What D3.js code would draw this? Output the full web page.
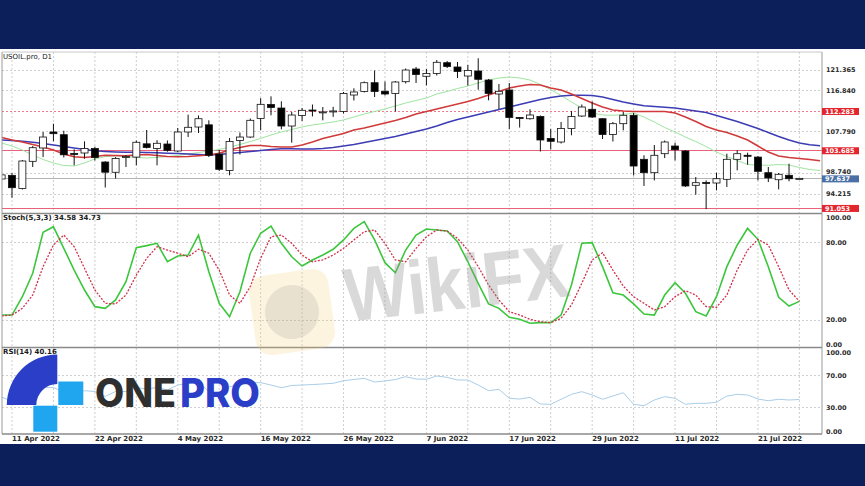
<!DOCTYPE html>
<html><head><meta charset="utf-8">
<script src="https://cdn.jsdelivr.net/npm/d3@7"></script>
<style>body{margin:0;background:#0c1f5b;}svg{display:block}</style>
</head><body>
<svg id="c" width="865" height="486"></svg>
<script>
// ---------------- DATA ----------------
const dates = ['2022-04-08',
'2022-04-11','2022-04-12','2022-04-13','2022-04-14',
'2022-04-18','2022-04-19','2022-04-20','2022-04-21','2022-04-22',
'2022-04-25','2022-04-26','2022-04-27','2022-04-28','2022-04-29',
'2022-05-02','2022-05-03','2022-05-04','2022-05-05','2022-05-06',
'2022-05-09','2022-05-10','2022-05-11','2022-05-12','2022-05-13',
'2022-05-16','2022-05-17','2022-05-18','2022-05-19','2022-05-20',
'2022-05-23','2022-05-24','2022-05-25','2022-05-26','2022-05-27',
'2022-05-30','2022-05-31','2022-06-01','2022-06-02','2022-06-03',
'2022-06-06','2022-06-07','2022-06-08','2022-06-09','2022-06-10',
'2022-06-13','2022-06-14','2022-06-15','2022-06-16','2022-06-17',
'2022-06-20','2022-06-21','2022-06-22','2022-06-23','2022-06-24',
'2022-06-27','2022-06-28','2022-06-29','2022-06-30','2022-07-01',
'2022-07-04','2022-07-05','2022-07-06','2022-07-07','2022-07-08',
'2022-07-11','2022-07-12','2022-07-13','2022-07-14','2022-07-15',
'2022-07-18','2022-07-19','2022-07-20','2022-07-21','2022-07-22',
'2022-07-25','2022-07-26','2022-07-27','2022-07-28','2022-07-29'];

// candles for dates[0..77]
const open  = [97.5,98.3,95.4,101.37,104.29,107.79,107.2,103.1,103.19,104.18,101.22,98.97,102.2,102.3,105.2,104.18,105.16,103.63,107.79,108.88,109.36,102.97,99.36,105.93,106.69,110.75,113.81,113.04,109.1,111.4,112.6,112.1,112.2,112.28,115.89,116.66,118.58,116.7,116.22,118.8,121.58,119.99,120.6,122.96,122.02,120.05,121.15,119.17,116.11,116.99,110.97,110.7,111.18,106.37,105.6,108.56,111.29,112.76,110.7,107.24,109.61,111.45,101.81,98.88,103.04,104.72,103.63,96.12,96.73,96.62,97.43,101.81,102.69,102.3,98.88,97.34,98.31,97.6];
const high  = [98.6,98.8,101.66,104.72,107.79,109.6,108.07,104.0,105.75,104.57,101.4,102.3,102.75,105.93,108.23,106.0,105.93,108.67,111.58,111.4,110.35,103.85,106.47,107.68,110.75,115.2,115.6,114.51,112.17,113.04,113.81,113.26,113.3,116.55,117.36,118.85,121.26,118.85,118.96,121.7,122.02,121.58,123.55,123.33,123.12,122.46,123.93,119.4,118.3,118.52,111.07,112.76,111.4,108.45,109.98,112.39,113.81,114.47,110.85,109.98,112.17,111.95,102.69,104.94,105.93,105.45,103.85,97.94,97.2,98.88,103.04,103.78,103.26,102.53,100.13,98.81,100.85,97.7];
const low   = [97.2,93.4,95.2,100.13,102.3,105.75,102.2,100.5,101.94,101.55,95.63,97.6,100.13,100.5,104.18,100.5,103.48,103.4,106.7,107.57,102.3,99.25,98.31,102.86,106.47,108.16,111.45,108.38,105.45,110.2,111.2,110.35,111.1,111.84,114.69,116.44,115.45,115.78,112.28,118.41,118.52,118.0,120.16,121.8,119.6,117.97,117.05,114.73,112.83,108.45,108.77,110.5,103.52,104.0,105.27,107.07,111.07,110.85,106.26,105.71,108.16,98.27,95.97,97.2,102.09,101.55,95.75,94.06,90.9,95.02,95.75,99.4,100.63,97.2,96.84,95.24,96.99,97.55];
const close = [98.4,95.6,101.44,104.35,106.69,107.42,102.8,102.9,104.18,102.2,98.99,102.0,102.43,105.54,104.4,105.32,103.78,107.79,108.82,110.7,102.69,99.62,105.7,106.69,110.35,113.85,113.15,109.1,111.51,112.54,112.5,112.2,112.4,116.22,116.55,118.58,116.66,116.11,118.74,121.36,120.38,120.6,123.05,122.13,121.04,121.26,119.33,116.22,116.7,110.97,110.9,111.51,106.04,105.75,108.56,111.18,113.26,111.07,107.24,109.61,111.45,100.34,98.88,102.69,105.6,103.91,95.97,96.69,96.67,97.56,101.81,103.04,102.64,99.18,97.73,98.53,97.56,97.637];

// moving averages for dates[0..79]
const maFast = [105.38,104.72,103.85,102.75,101.77,101.00,100.46,100.35,101.00,101.88,102.42,102.53,102.42,102.20,102.10,102.20,102.42,102.64,102.97,103.30,103.63,103.96,104.50,105.05,105.71,106.37,107.13,107.79,108.34,108.89,109.32,109.65,109.98,110.42,111.07,111.73,112.28,112.83,113.48,114.14,114.69,115.23,116.11,116.66,117.31,117.86,118.52,119.17,119.61,119.83,119.61,119.17,118.19,117.09,115.78,114.36,113.04,111.95,111.51,111.45,111.62,111.95,111.07,109.98,108.77,107.79,106.69,105.71,104.61,103.41,102.42,101.55,100.67,100.56,100.50,100.67,100.56,100.02,99.58,99.36];
const maMid  = [106.59,106.04,105.60,105.05,104.50,103.85,102.97,102.38,102.20,102.42,102.69,102.64,102.58,102.75,102.86,102.64,102.42,102.38,102.42,102.58,102.75,103.13,103.85,104.39,104.83,104.83,104.61,104.50,104.50,104.94,105.60,106.37,106.91,107.46,108.23,108.67,109.21,109.76,110.31,110.97,111.73,112.28,112.83,113.37,113.92,114.47,115.12,115.89,116.66,117.42,117.86,118.19,118.08,117.42,116.99,116.11,115.12,114.14,113.26,112.61,112.39,112.28,112.28,112.28,112.28,111.95,111.07,110.09,108.99,108.23,107.68,106.91,106.04,104.72,103.41,102.53,102.20,101.99,101.77,101.48];
const maSlow = [106.04,105.93,105.75,105.53,105.27,104.94,104.61,104.29,103.96,103.67,103.52,103.41,103.34,103.34,103.30,103.24,103.15,103.06,102.97,102.86,102.75,102.86,103.08,103.30,103.52,103.74,103.96,104.11,104.11,104.07,104.07,104.18,104.39,104.72,105.05,105.49,105.93,106.37,106.80,107.35,107.90,108.45,109.10,109.87,110.53,111.07,111.62,112.17,112.72,113.26,113.81,114.36,114.91,115.34,115.67,115.82,115.85,115.78,115.45,114.91,114.36,113.92,113.53,113.37,113.22,113.04,112.72,112.39,112.06,111.40,110.75,110.09,109.32,108.56,107.68,106.80,106.04,105.38,104.99,104.77];

// Stochastic (5,3,3) and RSI(14) for dates[0..77]
const stochMain = [24.0,24.0,38.2,56.4,88.1,92.5,75.7,58.9,43.4,30.5,29.2,35.7,49.8,76.2,77.8,79.6,65.3,69.8,70.5,86.0,57.6,33.1,22.7,42.1,71.9,87.4,93.0,79.6,69.2,62.0,66.7,70.5,75.0,82.2,91.2,96.4,82.2,64.6,56.8,74.4,86.0,90.7,89.9,89.1,80.9,65.3,48.6,32.6,29.2,22.2,20.7,17.6,18.1,18.1,24.0,47.3,79.6,80.1,61.5,41.3,39.5,32.6,24.8,24.0,39.5,49.1,40.9,26.6,23.3,38.2,61.5,78.3,91.2,82.7,61.5,37.8,31.0,34.58];
const stochSignal = [23.3,24.0,29.2,39.5,61.5,78.3,86.0,77.0,60.2,43.4,33.1,32.6,39.5,55.0,68.0,77.0,74.4,71.9,69.2,75.0,71.9,58.9,39.5,33.1,46.0,68.0,84.7,86.0,79.6,70.5,65.3,66.7,70.5,75.7,82.2,88.6,89.9,79.6,66.7,65.3,75.7,84.7,89.9,89.1,83.5,74.4,61.5,47.3,35.7,26.6,24.0,20.7,18.8,18.1,21.5,31.8,48.6,66.7,72.3,58.9,46.5,38.2,33.1,27.9,30.5,38.2,42.9,39.5,30.5,30.0,39.5,58.9,74.4,82.7,78.3,61.5,43.4,34.73];
const rsi = [43,38,48,52,55,55,49,49,51,50,44,50,50,55,53,55,52,58,60,62,50,46,56,58,61,60.9,58.0,54.7,57.4,58.0,58.6,59.3,60.1,63.3,64.8,66.3,61.7,63.0,64.8,68.3,65.4,65.1,69.1,67.5,64.2,64.2,58.0,51.0,52.7,41.6,40.7,42.8,34.6,34.2,40.4,46.5,49.8,45.7,40.4,44.4,48.5,34.2,32.5,39.5,43.6,41.6,34.2,35.4,35.4,36.7,44.4,46.5,45.7,40.7,38.6,40.4,39.5,40.16];

const priceTicks = [121.365,116.840,107.790,98.740,94.215];
const levels = [112.283,103.685,91.053];
const lastPrice = 97.637;
const stochTicks = [100,80,20,0];
const stochLevels = [80,20];
const rsiTicks = [100,70,30,0];
const rsiLevels = [70,30];
const xTickDates = ['2022-04-11','2022-04-22','2022-05-04','2022-05-16','2022-05-26','2022-06-07','2022-06-17','2022-06-29','2022-07-11','2022-07-21'];
const xTickLabels = ['11 Apr 2022','22 Apr 2022','4 May 2022','16 May 2022','26 May 2022','7 Jun 2022','17 Jun 2022','29 Jun 2022','11 Jul 2022','21 Jul 2022'];

// ---------------- LAYOUT ----------------
const svg = d3.select('#c');
const L = 2, R = 822;
const main = {t:52, b:213.5}, st = {t:213.5, b:347.5}, rs = {t:347.5, b:434};
const FONT = '"DejaVu Sans", Verdana, sans-serif';

const x = d3.scalePoint().domain(dates).range([1.64, 820.1]);
const yP = d3.scaleLinear().domain([94.215,121.365]).range([194,70]);
const yS = d3.scaleLinear().domain([0,100]).range([346,217]);
const yR = d3.scaleLinear().domain([0,100]).range([432,351]);
const crisp = v => Math.round(v - 0.5) + 0.5;

svg.append('rect').attr('width',865).attr('height',486).attr('fill','#0c1f5b');
svg.append('rect').attr('x',0).attr('y',49).attr('width',865).attr('height',395).attr('fill','#ffffff');

const defs = svg.append('defs');
[['cm',main],['cs',st],['cr',rs]].forEach(([id,p])=>{
  defs.append('clipPath').attr('id',id).append('rect')
    .attr('x',L).attr('y',p.t).attr('width',R-L).attr('height',p.b-p.t);
});

// vertical grid
const grid = svg.append('g');
dates.forEach((d,i)=>{
  if (i % 4 === 1) {
    grid.append('line').attr('x1',x(d)).attr('x2',x(d)).attr('y1',main.t).attr('y2',rs.b)
      .attr('stroke','#cfcfcf').attr('stroke-dasharray','2,2').attr('stroke-width',1);
  }
});
// horizontal grid
priceTicks.forEach(v=>grid.append('line').attr('x1',L).attr('x2',R).attr('y1',crisp(yP(v))).attr('y2',crisp(yP(v)))
  .attr('stroke','#cfcfcf').attr('stroke-dasharray','2,2'));
stochLevels.forEach(v=>grid.append('line').attr('x1',L).attr('x2',R).attr('y1',crisp(yS(v))).attr('y2',crisp(yS(v)))
  .attr('stroke','#cfcfcf').attr('stroke-dasharray','2,2'));
rsiLevels.forEach(v=>grid.append('line').attr('x1',L).attr('x2',R).attr('y1',crisp(yR(v))).attr('y2',crisp(yR(v)))
  .attr('stroke','#cfcfcf').attr('stroke-dasharray','2,2'));

// ---------- main panel ----------
const gm = svg.append('g').attr('clip-path','url(#cm)');
gm.append('line').attr('x1',L).attr('x2',R).attr('y1',crisp(yP(lastPrice))).attr('y2',crisp(yP(lastPrice))).attr('stroke','#b4b4b4');
levels.forEach((v,i)=>{
  gm.append('line').attr('x1',L).attr('x2',R).attr('y1',crisp(yP(v))).attr('y2',crisp(yP(v)))
    .attr('stroke', i===0 ? '#f07a8c' : '#e8627a').attr('stroke-width',1)
    .attr('stroke-dasharray', i===0 ? '2,2' : null);
});
const maLine = arr => d3.line().x((v,i)=>x(dates[i])).y(v=>yP(v))(arr);
gm.append('path').attr('d',maLine(maFast)).attr('fill','none').attr('stroke','#9fe39f').attr('stroke-width',1);
gm.append('path').attr('d',maLine(maSlow)).attr('fill','none').attr('stroke','#3c3cb4').attr('stroke-width',1.5);
gm.append('path').attr('d',maLine(maMid)).attr('fill','none').attr('stroke','#d03a3a').attr('stroke-width',1.5);
open.forEach((o,i)=>{
  const cx = x(dates[i]), c = close[i];
  gm.append('line').attr('x1',cx).attr('x2',cx).attr('y1',yP(high[i])).attr('y2',yP(low[i]))
    .attr('stroke','#111').attr('stroke-width',1);
  const top = yP(Math.max(o,c)), bot = yP(Math.min(o,c));
  gm.append('rect').attr('x',cx-3.5).attr('width',7).attr('y',top).attr('height',Math.max(1,bot-top))
    .attr('fill', c>=o ? '#ffffff' : '#000000').attr('stroke','#111').attr('stroke-width',0.8);
});

// ---------- stochastic ----------
const gs = svg.append('g').attr('clip-path','url(#cs)');
const sLine = arr => d3.line().x((v,i)=>x(dates[i])).y(v=>yS(v))(arr);
gs.append('path').attr('d',sLine(stochMain)).attr('fill','none').attr('stroke','#3dc63d').attr('stroke-width',1.6);
gs.append('path').attr('d',sLine(stochSignal)).attr('fill','none').attr('stroke','#d0304a').attr('stroke-width',1.3).attr('stroke-dasharray','2,1.5');

// ---------- RSI ----------
const gr = svg.append('g').attr('clip-path','url(#cr)');
gr.append('path').attr('d',d3.line().x((v,i)=>x(dates[i])).y(v=>yR(v))(rsi))
  .attr('fill','none').attr('stroke','#a9cde8').attr('stroke-width',1);

// ---------- frames ----------
const fr = svg.append('g').attr('stroke','#9a9a9a').attr('stroke-width',1);
fr.append('line').attr('x1',L).attr('x2',L).attr('y1',main.t).attr('y2',rs.b);
fr.append('line').attr('x1',R).attr('x2',R).attr('y1',main.t).attr('y2',rs.b);
fr.append('line').attr('x1',L).attr('x2',R).attr('y1',main.t).attr('y2',main.t).attr('stroke','#c8c8c8');
[main.b, st.b, rs.b].forEach(yy=>fr.append('line').attr('x1',L).attr('x2',R).attr('y1',yy).attr('y2',yy).attr('stroke','#8a8a8a').attr('stroke-width',1.5));

// ---------- axis labels ----------
const ax = svg.append('g').attr('font-family',FONT).attr('font-size',6.5).attr('font-weight','bold');
priceTicks.forEach(v=>ax.append('text').attr('x',826).attr('y',yP(v) - (v===98.74 ? 1.5 : 0)).attr('dy','0.35em').attr('fill','#2a2a2a').text(v.toFixed(3)));
levels.forEach(v=>{
  ax.append('rect').attr('x',822).attr('y',yP(v)-3.5).attr('width',37).attr('height',7).attr('fill','#e3262e');
  ax.append('text').attr('x',825).attr('y',yP(v)).attr('dy','0.35em').attr('fill','#ffffff').text(v.toFixed(3));
});
ax.append('rect').attr('x',822).attr('y',yP(lastPrice)-3).attr('width',37).attr('height',7).attr('fill','#4a70a6');
ax.append('text').attr('x',825).attr('y',yP(lastPrice)+0.5).attr('dy','0.35em').attr('fill','#ffffff').text(lastPrice.toFixed(3));
stochTicks.forEach(v=>ax.append('text').attr('x',826).attr('y',yS(v)+(v===100?1:0)-(v===0?1.5:0)).attr('dy','0.35em').attr('fill','#2a2a2a').text(v.toFixed(2)));
rsiTicks.forEach(v=>ax.append('text').attr('x',826).attr('y',yR(v)+(v===100?1.5:0)).attr('dy','0.35em').attr('fill','#2a2a2a').text(v.toFixed(2)));
const axx = svg.append('g').attr('font-family',FONT).attr('font-size',7).attr('font-weight','bold');
xTickDates.forEach((d,i)=>axx.append('text').attr('x',x(d)).attr('y',441).attr('fill','#2a2a2a').text(xTickLabels[i]));

// titles
const tt = svg.append('g').attr('font-family',FONT).attr('font-size',7).attr('fill','#1a1a1a');
tt.append('text').attr('x',3).attr('y',59).text('USOIL.pro, D1');
tt.append('text').attr('x',3).attr('y',220).attr('font-weight','bold').text('Stoch(5,3,3) ' + stochMain[stochMain.length-1].toFixed(2) + ' ' + stochSignal[stochSignal.length-1].toFixed(2));
tt.append('text').attr('x',3).attr('y',353.5).attr('font-weight','bold').text('RSI(14) ' + rsi[rsi.length-1].toFixed(2));

// ---------- WikiFX watermark ----------
const wm = svg.append('g');
const ic = wm.append('g').attr('transform','translate(292,312) rotate(-8)');
ic.append('rect').attr('x',-40).attr('y',-40).attr('width',80).attr('height',80).attr('rx',16)
  .attr('fill','#f6cf72').attr('opacity',0.22);
ic.append('circle').attr('r',27).attr('fill','#8a8a8a').attr('opacity',0.18);
wm.append('text').attr('transform','translate(347,322) rotate(-6.6)')
  .attr('font-family','"Liberation Sans", Arial, sans-serif').attr('font-weight','bold')
  .attr('font-size',76).attr('textLength',226).attr('lengthAdjust','spacingAndGlyphs')
  .attr('fill','#8c8c8c').attr('opacity',0.32).text('WikiFX');

// ---------- ONEPRO logo ----------
const lg = svg.append('g');
lg.append('path').attr('transform','translate(57.3,405)')
  .attr('d', d3.arc()({innerRadius:21, outerRadius:50.5, startAngle:-Math.PI/2, endAngle:0}))
  .attr('fill','#2b3ec8');
lg.append('rect').attr('x',58.3).attr('y',381.5).attr('width',25).attr('height',23.5).attr('fill','#1fa6ee');
lg.append('rect').attr('x',33.3).attr('y',405.7).attr('width',24).attr('height',26).attr('fill','#1fa6ee');
lg.append('text').attr('x',95).attr('y',406.7).attr('font-family','Inter, "Noto Sans", sans-serif').attr('font-weight',800)
  .attr('font-size',39).attr('textLength',81).attr('lengthAdjust','spacingAndGlyphs').attr('fill','#2f2f2f').text('ONE');
lg.append('text').attr('x',180).attr('y',406.7).attr('font-family','Inter, "Noto Sans", sans-serif').attr('font-weight',800)
  .attr('font-size',39).attr('textLength',80).attr('lengthAdjust','spacingAndGlyphs').attr('fill','#2b3ec8').text('PRO');
</script>
</body></html>
